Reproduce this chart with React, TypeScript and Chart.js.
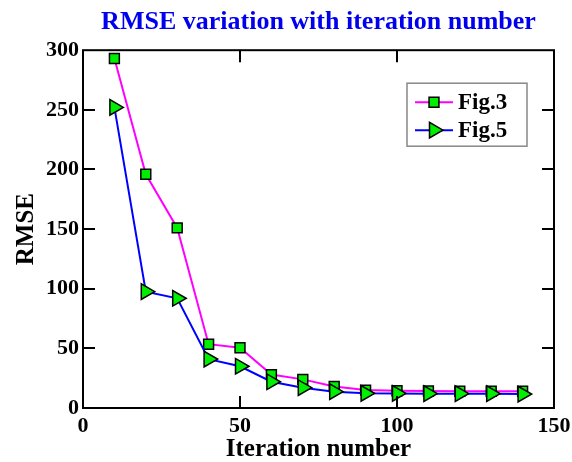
import React, { useEffect, useRef } from 'react';
import { Chart, registerables } from 'chart.js';

Chart.register(...registerables);

const iterations = [10, 20, 30, 40, 50, 60, 70, 80, 90, 100, 110, 120, 130, 140];
const fig3 = [293, 196, 151, 53.5, 50.5, 28, 24, 18, 15, 14.5, 14.3, 14, 14, 14];
const fig5 = [252, 97.5, 92, 41, 35, 22, 17, 13.7, 12.3, 12.2, 12, 12, 12, 11.7];
const xTicks = [0, 50, 100, 150];
const yTicks = [0, 50, 100, 150, 200, 250, 300];
const seriesNames = ['Fig.3', 'Fig.5'];

const FONT = "'Liberation Serif', 'Times New Roman', serif";
const MARKER_FILL = '#00ee00';

function drawMarker(ctx: CanvasRenderingContext2D, style: string, x: number, y: number, r: number, rot: number) {
  ctx.beginPath();
  if (style === 'rect') {
    const s = Math.SQRT1_2 * r;
    ctx.rect(x - s, y - s, 2 * s, 2 * s);
  } else {
    let rad = (rot * Math.PI) / 180;
    ctx.moveTo(x + Math.sin(rad) * r, y - Math.cos(rad) * r);
    rad += (2 * Math.PI) / 3;
    ctx.lineTo(x + Math.sin(rad) * r, y - Math.cos(rad) * r);
    rad += (2 * Math.PI) / 3;
    ctx.lineTo(x + Math.sin(rad) * r, y - Math.cos(rad) * r);
    ctx.closePath();
  }
  ctx.fill();
  ctx.stroke();
}

const framePlugin = {
  id: 'frameAndLegend',
  afterDraw(chart: any) {
    const { ctx, chartArea: a, scales } = chart;
    ctx.save();
    ctx.strokeStyle = '#000';
    ctx.lineWidth = 2;
    ctx.strokeRect(a.left, a.top, a.right - a.left, a.bottom - a.top);
    const L = 12;
    ctx.beginPath();
    for (const v of yTicks.slice(1, -1)) {
      const py = Math.round(scales.y.getPixelForValue(v));
      ctx.moveTo(a.left, py);
      ctx.lineTo(a.left + L, py);
      ctx.moveTo(a.right, py);
      ctx.lineTo(a.right - L, py);
    }
    for (const v of xTicks.slice(1, -1)) {
      const px = Math.round(scales.x.getPixelForValue(v));
      ctx.moveTo(px, a.bottom);
      ctx.lineTo(px, a.bottom - L);
      ctx.moveTo(px, a.top);
      ctx.lineTo(px, a.top + L);
    }
    ctx.stroke();

    // legend
    const bx = a.right - 147;
    const by = a.top + 33;
    const bw = 120;
    const bh = 63;
    ctx.fillStyle = '#fff';
    ctx.fillRect(bx, by, bw, bh);
    ctx.strokeStyle = '#888';
    ctx.lineWidth = 1.5;
    ctx.strokeRect(bx, by, bw, bh);
    chart.data.datasets.forEach((ds: any, i: number) => {
      const ry = by + 19 + i * 28;
      ctx.strokeStyle = ds.borderColor;
      ctx.lineWidth = 2;
      ctx.beginPath();
      ctx.moveTo(bx + 8, ry);
      ctx.lineTo(bx + 46, ry);
      ctx.stroke();
      ctx.fillStyle = ds.pointBackgroundColor;
      ctx.strokeStyle = '#000';
      ctx.lineWidth = 1.5;
      drawMarker(ctx, ds.pointStyle, bx + 27, ry, ds.pointRadius, ds.pointRotation || 0);
      ctx.fillStyle = '#000';
      ctx.font = `bold 23px ${FONT}`;
      ctx.textBaseline = 'middle';
      ctx.textAlign = 'left';
      ctx.fillText(ds.label, bx + 51, ry + 1);
    });
    ctx.restore();
  },
};

export default function App() {
  const ref = useRef<HTMLCanvasElement>(null);
  useEffect(() => {
    if (!ref.current) return;
    const chart = new Chart(ref.current, {
      type: 'line',
      data: {
        datasets: [
          {
            label: seriesNames[0],
            data: iterations.map((x, i) => ({ x, y: fig3[i] })),
            borderColor: '#ff00ff',
            borderWidth: 2,
            pointStyle: 'rect',
            pointRadius: 7,
            pointBackgroundColor: MARKER_FILL,
            pointBorderColor: '#000',
            pointBorderWidth: 1.5,
            tension: 0,
            order: 1,
          },
          {
            label: seriesNames[1],
            data: iterations.map((x, i) => ({ x, y: fig5[i] })),
            borderColor: '#0000ff',
            borderWidth: 2,
            pointStyle: 'triangle',
            pointRotation: 90,
            pointRadius: 9,
            pointBackgroundColor: MARKER_FILL,
            pointBorderColor: '#000',
            pointBorderWidth: 1.5,
            tension: 0,
            order: 0,
          },
        ],
      } as any,
      options: {
        responsive: false,
        animation: false,
        layout: { padding: { left: 0, right: 18, top: 0, bottom: 0 } },
        plugins: {
          legend: { display: false },
          tooltip: { enabled: false },
          title: {
            display: true,
            text: 'RMSE variation with iteration number',
            color: '#0000ee',
            font: { family: FONT, size: 26, weight: 'bold', lineHeight: 1.2 },
            padding: { top: 7, bottom: 12 },
            fullSize: false,
          },
        },
        scales: {
          x: {
            type: 'linear',
            min: xTicks[0],
            max: xTicks[xTicks.length - 1],
            ticks: {
              stepSize: xTicks[1] - xTicks[0],
              color: '#000',
              padding: 5,
              maxRotation: 0,
              font: { family: FONT, size: 22, weight: 'bold' },
            },
            grid: { display: false, drawTicks: false },
            border: { display: false },
            title: {
              display: true,
              text: 'Iteration number',
              color: '#000',
              font: { family: FONT, size: 25, weight: 'bold', lineHeight: 1 },
              padding: { top: 0, bottom: 0 },
            },
            afterFit: (s: any) => {
              s.height = 54;
              s.paddingRight = 0;
              s.paddingLeft = 0;
            },
          },
          y: {
            type: 'linear',
            min: yTicks[0],
            max: yTicks[yTicks.length - 1],
            ticks: {
              stepSize: yTicks[1] - yTicks[0],
              color: '#000',
              padding: 4,
              font: { family: FONT, size: 22, weight: 'bold' },
            },
            grid: { display: false, drawTicks: false },
            border: { display: false },
            title: {
              display: true,
              text: 'RMSE',
              color: '#000',
              font: { family: FONT, size: 25, weight: 'bold', lineHeight: 1 },
              padding: { top: 14, bottom: 0 },
            },
            afterFit: (s: any) => {
              s.width = 83;
            },
          },
        },
      } as any,
      plugins: [framePlugin],
    });
    return () => chart.destroy();
  }, []);
  return (
    <div style={{ position: 'fixed', left: 0, top: 0, width: 572, height: 462, background: '#fff' }}>
      <canvas ref={ref} width={572} height={462} style={{ display: 'block' }} />
    </div>
  );
}
